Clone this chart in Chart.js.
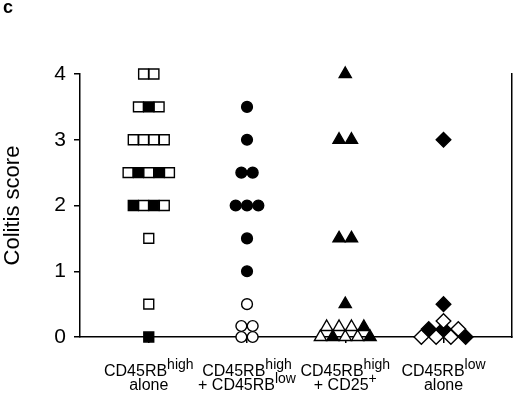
<!DOCTYPE html>
<html>
<head>
<meta charset="utf-8">
<script src="https://cdn.jsdelivr.net/npm/chart.js@4.4.0/dist/chart.umd.min.js"></script>
<style>
  body { margin: 0; background: #fff; }
  canvas { display: block; }
</style>
</head>
<body>
<canvas id="myChart" width="520" height="396"></canvas>
<script>
const groupTop = ['CD45RB', 'CD45RB', 'CD45RB', 'CD45RB'];
const groupTopSup = ['high', 'high', 'high', 'low'];
const groupBottom = ['alone', '+ CD45RB', '+ CD25', 'alone'];
const groupBottomSup = ['', 'low', '+', ''];
const yTicks = [0, 1, 2, 3, 4];

// colitis score of each mouse, 1 = filled symbol
const scoresHighAlone = [4, 4, 3.5, 3.5, 3.5, 3, 3, 3, 3, 2.5, 2.5, 2.5, 2.5, 2.5, 2, 2, 2, 2, 1.5, 0.5, 0];
const filledHighAlone = [0, 0, 0, 1, 0, 0, 0, 0, 0, 0, 1, 0, 1, 0, 1, 0, 1, 0, 0, 0, 1];
const scoresHighPlusLow = [3.5, 3, 2.5, 2.5, 2, 2, 2, 1.5, 1, 0.5, 0, 0, 0, 0];
const filledHighPlusLow = [1, 1, 1, 1, 1, 1, 1, 1, 1, 0, 0, 0, 0, 0];
const scoresHighPlusCD25 = [4, 3, 3, 1.5, 1.5, 0.5, 0, 0, 0, 0, 0, 0, 0, 0, 0];
const filledHighPlusCD25 = [1, 1, 1, 1, 1, 1, 0, 1, 0, 0, 1, 0, 0, 0, 1];
const scoresLowAlone = [3, 0.5, 0, 0, 0, 0, 0, 0, 0, 0];
const filledLowAlone = [1, 1, 0, 0, 0, 1, 1, 1, 0, 0];

const X_MIN = 0.3, X_MAX = 4.69;
const PX_X = 438 / (X_MAX - X_MIN);
const PX_Y = 263 / 4;

// spread the mice of one score side by side, stack the zeros in rows
function dotPlot(group, scores, filled, gapPx, stackPx, zeroRows) {
	let pts = [], colors = [], levels = [];
	scores.forEach(function(s, i) {
		let lv = levels.find(l => l.score === s);
		if (!lv) { lv = {score: s, idx: []}; levels.push(lv); }
		lv.idx.push(i);
	});
	levels.forEach(function(lv) {
		let sizes = lv.score === 0 ? zeroRows : [lv.idx.length];
		let k = 0;
		sizes.forEach(function(n, row) {
			for (let j = 0; j < n; j++) {
				let i = lv.idx[k++];
				pts.push({x: group + (j - (n - 1) / 2) * gapPx / PX_X, y: lv.score + row * stackPx / PX_Y});
				colors.push(filled[i] ? '#000' : '#fff');
			}
		});
	});
	return {pts: pts, colors: colors};
}

const g1 = dotPlot(1, scoresHighAlone, filledHighAlone, 10.5, 10, [1]);
const g2 = dotPlot(2, scoresHighPlusLow, filledHighPlusLow, 11.5, 11, [2, 2]);
const g3 = dotPlot(3, scoresHighPlusCD25, filledHighPlusCD25, 12.6, 10, [5, 4]);
const g4 = dotPlot(4, scoresLowAlone, filledLowAlone, 15, 8, [4, 3, 1]);

function serie(g, style, radius) {
	return {
		data: g.pts,
		pointStyle: style,
		pointRadius: radius,
		pointBackgroundColor: g.colors,
		pointBorderColor: '#000',
		pointBorderWidth: 1.4,
		showLine: false,
		clip: false
	};
}

const FONT = "'Liberation Sans', Arial, Helvetica, sans-serif";

// one label line, with the raised part after the main text
function drawRun(ctx, x, y, main, sup) {
	ctx.font = '16px ' + FONT;
	let w1 = ctx.measureText(main).width;
	ctx.font = '14px ' + FONT;
	let w2 = sup ? ctx.measureText(sup).width : 0;
	let left = x - (w1 + w2) / 2;
	ctx.textAlign = 'left';
	ctx.font = '16px ' + FONT;
	ctx.fillText(main, left, y);
	if (sup) {
		ctx.font = '14px ' + FONT;
		ctx.fillText(sup, left + w1, y - 7);
	}
}

const labelsPlugin = {
	id: 'groupLabels',
	afterDraw(chart) {
		let ctx = chart.ctx;
		let xs = chart.scales.x;
		let base = chart.chartArea.bottom;
		ctx.save();
		ctx.fillStyle = '#000';
		ctx.textBaseline = 'alphabetic';
		for (let i = 0; i < groupTop.length; i++) {
			let x = xs.getPixelForValue(i + 1);
			drawRun(ctx, x, base + 39, groupTop[i], groupTopSup[i]);
			drawRun(ctx, x, base + 53, groupBottom[i], groupBottomSup[i]);
		}
		ctx.font = 'bold 18px ' + FONT;
		ctx.textAlign = 'left';
		ctx.fillText('c', 3, 13);
		ctx.restore();
	}
};

let canva = document.getElementById('myChart').getContext('2d');

let myChart = new Chart(canva, {
	type: 'scatter',
	data: {
		datasets: [
			serie(g1, 'rect', 7),
			serie(g2, 'circle', 5.4),
			serie(g3, 'triangle', 7),
			serie(g4, 'rectRot', 7.3)
		]
	},
	options: {
		responsive: false,
		animation: false,
		layout: { padding: { top: 74, right: 0, left: 0, bottom: 0 } },
		plugins: { legend: { display: false }, tooltip: { enabled: false } },
		scales: {
			x: {
				type: 'linear',
				min: X_MIN,
				max: X_MAX,
				afterBuildTicks: function(s) { s.ticks = groupTop.map((t, i) => ({value: i + 1})); },
				afterFit: function(s) { s.height = 59; },
				ticks: { callback: () => '', font: { size: 1 } },
				grid: { drawOnChartArea: false, color: '#000', lineWidth: 1.5, tickLength: 6 },
				border: { color: '#000', width: 1.5 }
			},
			y: {
				min: 0,
				max: 4,
				afterBuildTicks: function(s) { s.ticks = yTicks.map(v => ({value: v})); },
				afterFit: function(s) { s.width = 80; },
				ticks: { color: '#000', padding: 8, font: { family: FONT, size: 21 } },
				grid: { drawOnChartArea: false, color: '#000', lineWidth: 1.5, tickLength: 6 },
				border: { color: '#000', width: 1.5 },
				title: { display: true, text: 'Colitis score', color: '#000', padding: { top: 0, bottom: 0 }, font: { family: FONT, size: 22 } }
			},
			y2: {
				position: 'right',
				min: 0,
				max: 4,
				afterFit: function(s) { s.width = 2; },
				ticks: { display: false },
				grid: { drawOnChartArea: false, drawTicks: false },
				border: { color: '#000', width: 1.5 }
			}
		}
	},
	plugins: [labelsPlugin]
});
</script>
</body>
</html>
